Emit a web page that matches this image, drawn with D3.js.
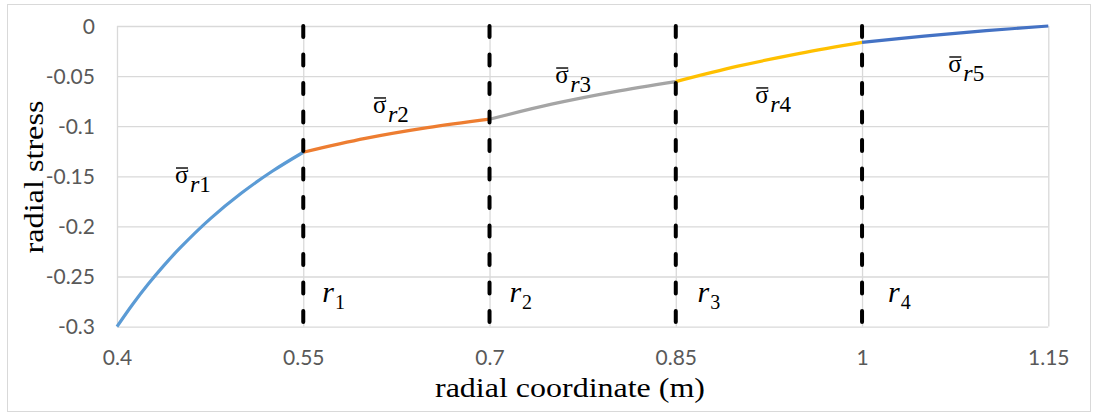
<!DOCTYPE html>
<html>
<head>
<meta charset="utf-8">
<script src="https://cdn.jsdelivr.net/npm/d3@7"></script>
<style>
  html, body { margin: 0; padding: 0; background: #fff; }
  svg { display: block; }
  .serif { font-family: 'Liberation Serif', 'Times New Roman', serif; }
  .tick-label { font-family: Lato, 'Liberation Sans', sans-serif; }
</style>
</head>
<body>
<svg id="chart" width="1094" height="414"></svg>
<script>
// Radial stress through five layered zones (piecewise solution)
const xTicks = [0.4, 0.55, 0.7, 0.85, 1.0, 1.15];
const yTicks = [0, -0.05, -0.1, -0.15, -0.2, -0.25, -0.3];
const boundaries = [0.55, 0.7, 0.85, 1.0];
const boundaryNames = ["1", "2", "3", "4"];

const zone1R = [0.4, 0.4125, 0.425, 0.4375, 0.45, 0.475, 0.5, 0.525, 0.55];
const zone1S = [-0.300, -0.2779, -0.2578, -0.2394, -0.2225, -0.1925, -0.1670, -0.1450, -0.1260];
const zone2R = [0.55, 0.6, 0.65, 0.7];
const zone2S = [-0.126, -0.1122, -0.1015, -0.093];
const zone3R = [0.7, 0.75, 0.8, 0.85];
const zone3S = [-0.093, -0.078, -0.0657, -0.0555];
const zone4R = [0.85, 0.9, 0.95, 1.0];
const zone4S = [-0.0555, -0.0401, -0.0273, -0.0163];
const zone5R = [1.0, 1.05, 1.1, 1.15];
const zone5S = [-0.0163, -0.0101, -0.0047, 0];

const zoneNames = ["1", "2", "3", "4", "5"];
const zoneColors = ["#5B9BD5", "#ED7D31", "#A5A5A5", "#FFC000", "#4472C4"];

// label anchors (data units) for the zone annotations
const zoneLabelAt = [[0.4467, -0.1567], [0.6062, -0.0868], [0.7529, -0.0569], [0.914, -0.0768], [1.0695, -0.0459]];
const boundaryLabelX = [0.5653, 0.7160, 0.8675, 1.0209];
const boundaryLabelY = -0.2754;

const zones = [
  [zone1R, zone1S], [zone2R, zone2S], [zone3R, zone3S], [zone4R, zone4S], [zone5R, zone5S]
].map(([r, s], i) => ({ name: zoneNames[i], color: zoneColors[i], pts: r.map((v, j) => [v, s[j]]) }));

const svg = d3.select("#chart");
const plotL = 117, plotR = 1048.3, plotT = 26, plotB = 326.6;

const x = d3.scaleLinear().domain([0.4, 1.15]).range([plotL, plotR]);
const y = d3.scaleLinear().domain([-0.3, 0]).range([plotB, plotT]);

// outer frame
svg.append("rect")
  .attr("x", 7.5).attr("y", 4.5).attr("width", 1083).attr("height", 407)
  .attr("fill", "none").attr("stroke", "#d9d9d9").attr("stroke-width", 1);

const gridColor = "#d9d9d9";

// horizontal grid
svg.append("g")
  .attr("transform", `translate(${plotL},0)`)
  .call(d3.axisLeft(y).tickValues(yTicks).tickSize(-(plotR - plotL)).tickFormat(""))
  .call(g => g.select(".domain").remove())
  .call(g => g.selectAll(".tick line").attr("stroke", gridColor).attr("stroke-width", 1.3));

// vertical grid
svg.append("g")
  .attr("transform", `translate(0,${plotB})`)
  .call(d3.axisBottom(x).tickValues(xTicks).tickSize(-(plotB - plotT)).tickFormat(""))
  .call(g => g.select(".domain").remove())
  .call(g => g.selectAll(".tick line").attr("stroke", gridColor).attr("stroke-width", 1.3));

// y tick labels
svg.append("g")
  .attr("transform", `translate(${plotL},0)`)
  .call(d3.axisLeft(y).tickValues(yTicks).tickSize(0).tickPadding(22)
    .tickFormat(d => d === 0 ? "0" : String(d)))
  .call(g => g.select(".domain").remove())
  .call(g => g.selectAll("text")
    .attr("class", "tick-label")
    .attr("font-size", 21).attr("fill", "#595959").attr("dy", "0.35em"));

// x tick labels
svg.append("g")
  .attr("transform", `translate(0,${plotB})`)
  .call(d3.axisBottom(x).tickValues(xTicks).tickSize(0).tickPadding(23)
    .tickFormat(d => String(+d.toFixed(2))))
  .call(g => g.select(".domain").remove())
  .call(g => g.selectAll("text")
    .attr("class", "tick-label")
    .attr("font-size", 21).attr("fill", "#595959").attr("dy", "0.71em"));

// axis groups set a default family; let the CSS classes decide
svg.selectAll("g").attr("font-family", null);

// stress curves
const line = d3.line().x(d => x(d[0])).y(d => y(d[1])).curve(d3.curveCatmullRom);
svg.append("g").selectAll("path").data(zones).join("path")
  .attr("d", d => line(d.pts))
  .attr("fill", "none")
  .attr("stroke", d => d.color)
  .attr("stroke-width", 3.2)
  .attr("stroke-linecap", "butt");

// layer boundaries
svg.append("g").selectAll("line").data(boundaries).join("line")
  .attr("x1", d => x(d)).attr("x2", d => x(d))
  .attr("y1", y(0)).attr("y2", y(-0.3))
  .attr("stroke", "#000").attr("stroke-width", 4)
  .attr("stroke-dasharray", "11 17.5")
  .attr("stroke-linecap", "round");

// zone labels: sigma with overbar, subscript r_i
const zl = svg.append("g");
zones.forEach((z, i) => {
  const px = x(zoneLabelAt[i][0]), py = y(zoneLabelAt[i][1]);
  const sig = zl.append("text").attr("class", "serif")
    .attr("x", px).attr("y", py).attr("font-size", 25).attr("fill", "#000")
    .text("\u03C3");
  const w = sig.node().getComputedTextLength();
  zl.append("line")
    .attr("x1", px + 1).attr("x2", px + w - 0.5)
    .attr("y1", py - 15).attr("y2", py - 15)
    .attr("stroke", "#000").attr("stroke-width", 1.4);
  const sub = zl.append("text").attr("class", "serif")
    .attr("x", px + w + 1.5).attr("y", py + 9).attr("fill", "#000");
  sub.append("tspan").attr("font-size", 24).attr("font-style", "italic").text("r");
  sub.append("tspan").attr("font-size", 23).text(z.name);
});

// boundary labels r_i
const bl = svg.append("g");
boundaries.forEach((b, i) => {
  const t = bl.append("text").attr("class", "serif")
    .attr("x", x(boundaryLabelX[i])).attr("y", y(boundaryLabelY))
    .attr("fill", "#000");
  t.append("tspan").attr("font-size", 30).attr("font-style", "italic").text("r");
  t.append("tspan").attr("dy", 7).attr("dx", 1).attr("font-size", 20).text(boundaryNames[i]);
});

// axis titles
svg.append("text").attr("class", "serif")
  .attr("x", 570).attr("y", 397)
  .attr("text-anchor", "middle")
  .attr("font-size", 27)
  .attr("textLength", 270).attr("lengthAdjust", "spacingAndGlyphs")
  .text("radial coordinate (m)");

svg.append("text").attr("class", "serif")
  .attr("transform", "translate(43,177) rotate(-90)")
  .attr("text-anchor", "middle")
  .attr("font-size", 27)
  .attr("textLength", 153).attr("lengthAdjust", "spacingAndGlyphs")
  .text("radial stress");
</script>
</body>
</html>
